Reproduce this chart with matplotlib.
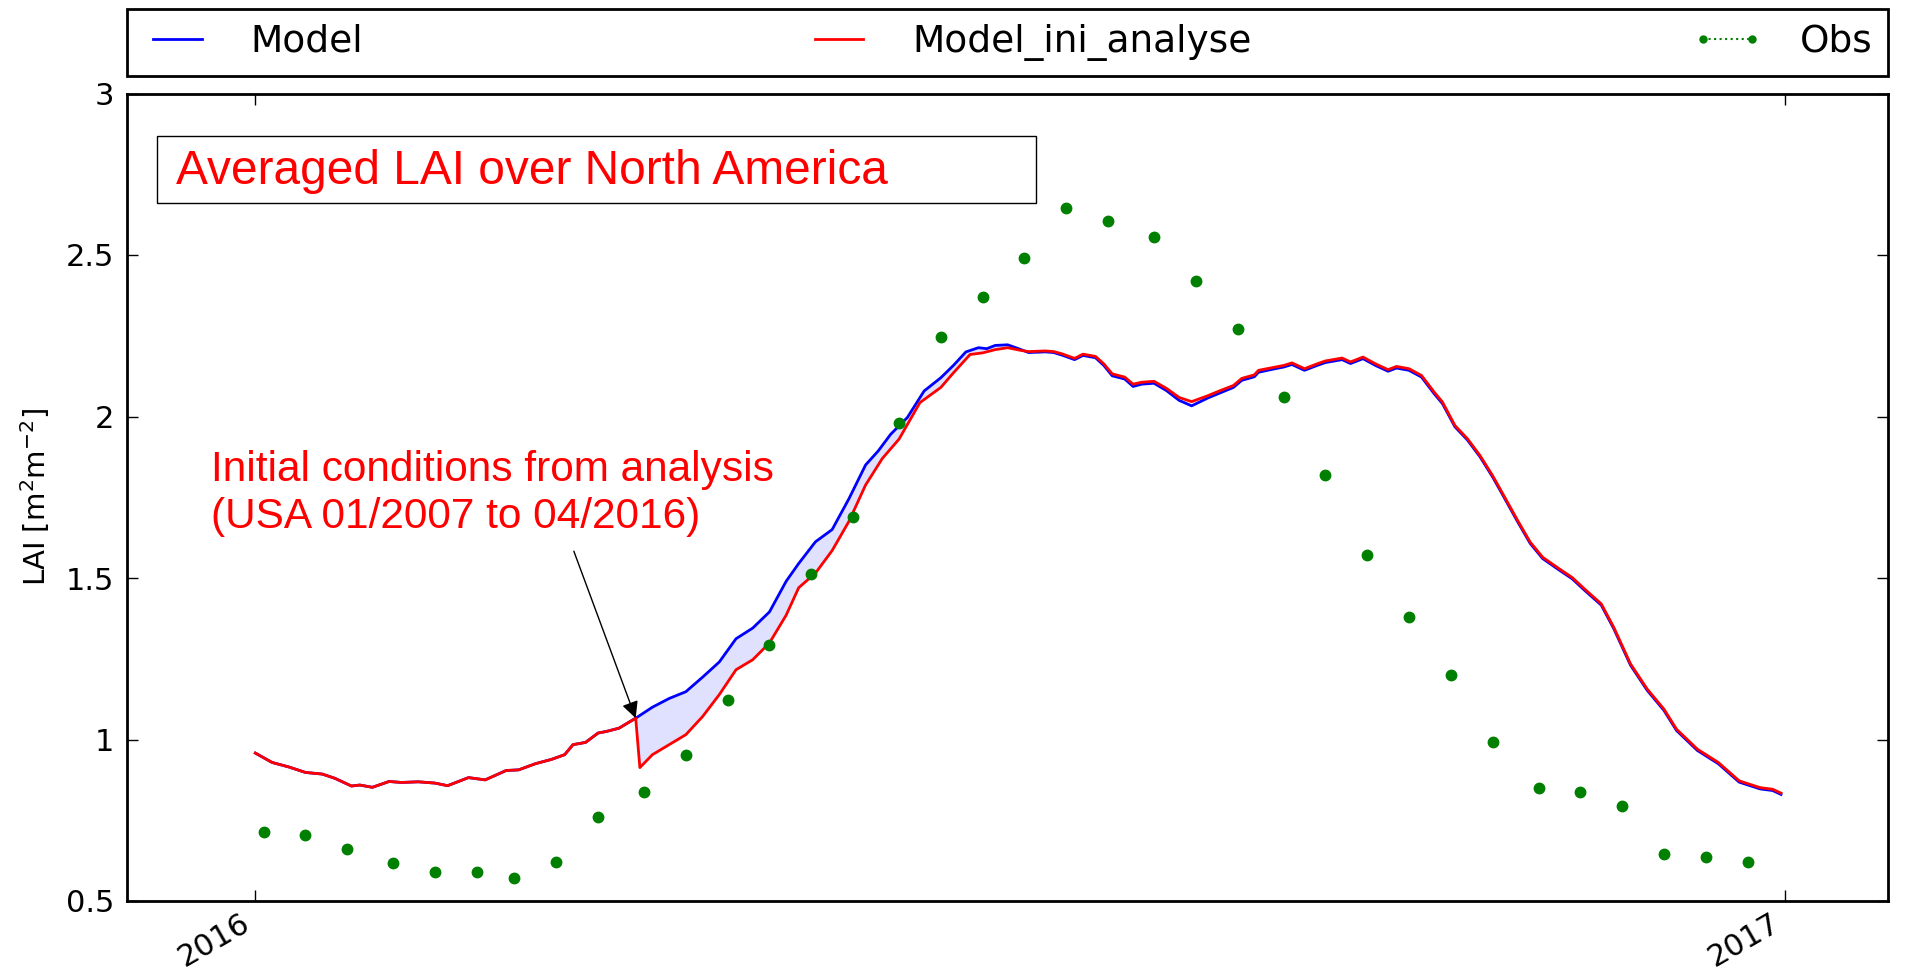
#%%
# ============================================================
# Averaged LAI over North America - Model vs analysis-initialised run vs Obs
# ============================================================

import numpy as np
import pandas as pd
import matplotlib
matplotlib.use("Agg")
import matplotlib.pyplot as plt
import matplotlib.dates as mdates
from matplotlib.lines import Line2D
from matplotlib.patches import Rectangle
from matplotlib.ticker import FuncFormatter

# ------------------------------------------------------------
# Data (day offsets from 2016-01-01, LAI in m2/m2)
# ------------------------------------------------------------
# Jan-Mar: both runs identical
spinup_days = [0, 4, 8, 12, 16, 19, 23, 25, 28, 32, 35, 39, 43, 46, 51, 55,
               60, 63, 67, 71, 74, 76, 79, 82, 84, 87, 91]
spinup_lai = [0.958, 0.929, 0.915, 0.898, 0.893, 0.880, 0.856, 0.859, 0.852,
              0.870, 0.867, 0.869, 0.865, 0.857, 0.882, 0.875, 0.904, 0.906,
              0.925, 0.939, 0.953, 0.984, 0.991, 1.020, 1.025, 1.035, 1.066]

# free running model, Apr-Dec
model_days = [95, 99, 103, 107, 111, 115, 119, 123, 127, 130, 134, 138, 142,
              146, 149, 152, 156, 160, 164, 167, 170, 173, 175, 177, 180, 183,
              185, 189, 191, 193, 196, 198, 201, 203, 205, 208, 210, 212, 215,
              218, 221, 224, 228, 231, 234, 236, 239, 240, 244, 246, 248, 251,
              254, 256, 260, 262, 265, 268, 271, 273, 276, 279, 282, 284, 287,
              290, 293, 296, 298, 302, 305, 308, 312, 315, 318, 322, 325, 329,
              333, 337, 340, 345, 350, 355, 360, 363, 365]
model_lai = [1.100, 1.127, 1.148, 1.193, 1.240, 1.312, 1.345, 1.395, 1.490,
             1.545, 1.612, 1.650, 1.745, 1.850, 1.893, 1.945, 1.997, 2.079,
             2.120, 2.158, 2.200, 2.213, 2.210, 2.220, 2.222, 2.208,
             2.198, 2.200, 2.198, 2.190, 2.176, 2.189, 2.182, 2.158, 2.126,
             2.116, 2.093, 2.100, 2.103, 2.080, 2.050, 2.033, 2.058, 2.074,
             2.090, 2.112, 2.123, 2.137, 2.148, 2.153, 2.161, 2.143, 2.158,
             2.167, 2.176, 2.164, 2.179, 2.158, 2.140, 2.150, 2.143, 2.122,
             2.071, 2.040, 1.968, 1.927, 1.875, 1.813, 1.767, 1.674, 1.607,
             1.560, 1.524, 1.498, 1.462, 1.416, 1.343, 1.230, 1.152, 1.090,
             1.028, 0.966, 0.925, 0.868, 0.847, 0.842, 0.830]

# run initialised from analysis on 1 April
ini_days = [92, 95, 99, 103, 107, 111, 115, 119, 123, 127, 130, 134, 138,
            142, 146, 150, 154, 159, 164, 167, 171, 174, 177, 180, 183,
            185, 189, 191, 193, 196, 198, 201, 203, 205, 208, 210, 212, 215,
            218, 221, 224, 228, 231, 234, 236, 239, 240, 244, 246, 248, 251,
            254, 256, 260, 262, 265, 268, 271, 273, 276, 279, 282, 284, 287,
            290, 293, 296, 298, 302, 305, 308, 312, 315, 318, 322, 325, 329,
            333, 337, 340, 345, 350, 355, 360, 363, 365]
ini_lai = [0.913, 0.953, 0.984, 1.015, 1.071, 1.139, 1.216, 1.247, 1.299,
           1.385, 1.470, 1.515, 1.585, 1.675, 1.788, 1.870, 1.930, 2.043,
           2.090, 2.135, 2.192, 2.197, 2.207, 2.213, 2.205,
           2.201, 2.203, 2.201, 2.194, 2.180, 2.193, 2.186, 2.163, 2.132,
           2.122, 2.100, 2.106, 2.109, 2.087, 2.059, 2.046, 2.065, 2.081,
           2.096, 2.118, 2.129, 2.143, 2.153, 2.158, 2.166, 2.148, 2.163,
           2.172, 2.181, 2.169, 2.184, 2.163, 2.145, 2.155, 2.148, 2.127,
           2.076, 2.045, 1.972, 1.931, 1.879, 1.817, 1.771, 1.678, 1.611,
           1.564, 1.528, 1.502, 1.466, 1.420, 1.347, 1.234, 1.156, 1.094,
           1.032, 0.970, 0.929, 0.872, 0.851, 0.846, 0.834]

# dekadal observations
obs_months = list(range(1, 13))
obs_dekad_days = [3, 13, 23]
obs_lai = [0.713, 0.705, 0.660, 0.618, 0.591, 0.591, 0.572, 0.622, 0.760,
           0.839, 0.953, 1.123, 1.294, 1.511, 1.688, 1.981, 2.246, 2.369,
           2.491, 2.647, 2.605, 2.556, 2.419, 2.272, 2.060, 1.820, 1.572,
           1.378, 1.200, 0.991, 0.849, 0.836, 0.795, 0.644, 0.637, 0.622]

start = pd.Timestamp("2016-01-01")


def to_num(days):
    return mdates.date2num(start + pd.to_timedelta(np.asarray(days, dtype=float), unit="D"))


# ------------------------------------------------------------
# Build series
# ------------------------------------------------------------
x_model = np.concatenate([to_num(spinup_days), to_num(model_days)])
y_model = np.array(spinup_lai + model_lai)
x_ini = np.concatenate([to_num(spinup_days), to_num(ini_days)])
y_ini = np.array(spinup_lai + ini_lai)

obs_dates = pd.to_datetime([f"2016-{m:02d}-{d:02d}" for m in obs_months for d in obs_dekad_days])
x_obs = mdates.date2num(obs_dates)

# shaded gap between the two runs after re-initialisation
m_sel = np.array(model_days) <= 185
i_sel = np.array(ini_days) <= 185
poly_x = np.concatenate([to_num(spinup_days[-1:]), to_num(model_days)[m_sel], to_num(ini_days)[i_sel][::-1]])
poly_y = np.concatenate([spinup_lai[-1:], np.array(model_lai)[m_sel], np.array(ini_lai)[i_sel][::-1]])

# ------------------------------------------------------------
# Plot
# ------------------------------------------------------------
W, H = 1922, 973
fig = plt.figure(figsize=(W / 100, H / 100), dpi=100)
ax_l, ax_r, ax_t, ax_b = 127, 1888, 93.5, 901
ax = fig.add_axes([ax_l / W, 1 - ax_b / H, (ax_r - ax_l) / W, (ax_b - ax_t) / H])

ax.fill(poly_x, poly_y, color="#0000ff", alpha=0.12, lw=0, zorder=1)
l_model, = ax.plot(x_model, y_model, color="#0000ff", lw=2, zorder=3)
l_ini, = ax.plot(x_ini, y_ini, color="#ff0000", lw=2, zorder=4)
ax.plot(x_obs, obs_lai, ls="none", marker="o", ms=7.5, color="#008000", mec="#008000", zorder=5)

ax.set_xlim(to_num([-30.7])[0], to_num([390.6])[0])
ax.set_ylim(0.5, 3)
ax.set_yticks([0.5, 1, 1.5, 2, 2.5, 3])
ax.yaxis.set_major_formatter(FuncFormatter(lambda v, p: f"{v:g}"))
ax.xaxis.set_major_locator(mdates.YearLocator())
ax.xaxis.set_major_formatter(mdates.DateFormatter("%Y"))
ax.tick_params(direction="in", top=True, right=True, length=8, width=1,
               labelsize=22, pad=9)
ax.tick_params(axis="x", pad=5)
for lab in ax.get_xticklabels():
    lab.set_rotation(30)
    lab.set_ha("right")
for sp in ax.spines.values():
    sp.set_linewidth(2)
ax.set_ylabel(r"LAI [m$^2$m$^{-2}$]", fontsize=21, labelpad=10)

# legend strip above the axes
obs_handle = Line2D([], [], color="#008000", ls=":", lw=1.5, marker="o", ms=5)
leg = ax.legend([l_model, l_ini, obs_handle], ["Model", "Model_ini_analyse", "Obs"],
                loc="lower left", bbox_to_anchor=(0, 1 + 17.5 / (ax_b - ax_t), 1, 0.1),
                mode="expand", ncol=3, borderaxespad=0, fontsize=27, numpoints=2,
                handlelength=1.9, handletextpad=1.0, borderpad=0.4,
                fancybox=False, edgecolor="black", framealpha=1)
leg.get_frame().set_linewidth(2)

# title box
ax.add_patch(Rectangle((0.0172, 0.8647), 0.4992, 0.0823, transform=ax.transAxes,
                       fill=False, edgecolor="black", lw=1, zorder=6))
ax.text(0.028, 0.904, "Averaged LAI over North America", transform=ax.transAxes,
        color="#ff0000", fontsize=34.5, family="Liberation Sans", va="center", ha="left")

# annotation of the re-initialisation
ax.text(0.0478, 0.5335, "Initial conditions from analysis", transform=ax.transAxes,
        color="#ff0000", fontsize=30.5, family="Liberation Sans", va="center", ha="left")
ax.text(0.0478, 0.4757, "(USA 01/2007 to 04/2016)", transform=ax.transAxes,
        color="#ff0000", fontsize=30.5, family="Liberation Sans", va="center", ha="left")
ax.annotate("", xy=(to_num([91])[0], 1.066), xytext=(to_num([76.2])[0], 1.583),
            arrowprops=dict(arrowstyle="-|>", color="black", lw=1, mutation_scale=25,
                            shrinkA=0, shrinkB=0), zorder=7)

fig.savefig("out.png", dpi=100)
